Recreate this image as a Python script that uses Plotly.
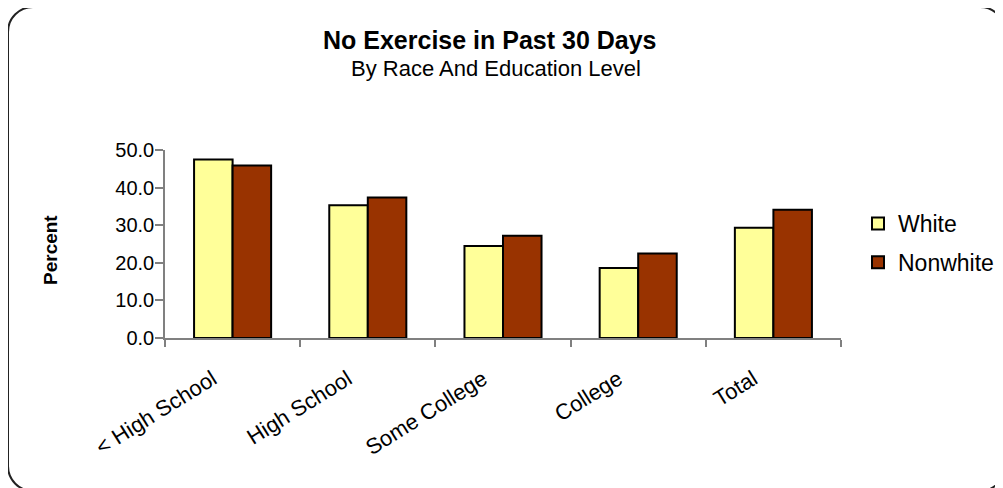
import plotly.graph_objects as go

categories = ["< High School", "High School", "Some College", "College", "Total"]
white = [47.5, 35.3, 24.5, 18.6, 29.3]
nonwhite = [45.9, 37.4, 27.2, 22.5, 34.1]
series_names = ["White", "Nonwhite"]
y_ticks = [0, 10, 20, 30, 40, 50]

OFF = 8  # page body margin
W, H = 1003 - OFF, 488 - OFF
PL, PR, PT, PB = 165, 841, 150, 338  # plot area in page pixels
L, T = PL - OFF, PT - OFF
R, B = W - (PR - OFF), H - (PB - OFF)
PW, PH = PR - PL, PB - PT
FONT = "Liberation Sans, Arial, sans-serif"


def px(x):
    return (x - PL) / PW


def py(y):
    return (PB - y) / PH


def rounded_rect(x0, y0, x1, y1, r):
    k = 0.5523 * r
    pts = [
        f"M{px(x0 + r)},{py(y0)}",
        f"L{px(x1 - r)},{py(y0)}",
        f"C{px(x1 - r + k)},{py(y0)} {px(x1)},{py(y0 + r - k)} {px(x1)},{py(y0 + r)}",
        f"L{px(x1)},{py(y1 - r)}",
        f"C{px(x1)},{py(y1 - r + k)} {px(x1 - r + k)},{py(y1)} {px(x1 - r)},{py(y1)}",
        f"L{px(x0 + r)},{py(y1)}",
        f"C{px(x0 + r - k)},{py(y1)} {px(x0)},{py(y1 - r + k)} {px(x0)},{py(y1 - r)}",
        f"L{px(x0)},{py(y0 + r)}",
        f"C{px(x0)},{py(y0 + r - k)} {px(x0 + r - k)},{py(y0)} {px(x0 + r)},{py(y0)}",
        "Z",
    ]
    return " ".join(pts)


fig = go.Figure()
fig.add_trace(go.Bar(
    x=categories, y=white, name=series_names[0], legendgroup="a",
    marker=dict(color="#FFFF99", line=dict(color="black", width=2)),
))
fig.add_trace(go.Bar(
    x=categories, y=nonwhite, name=series_names[1], legendgroup="b",
    marker=dict(color="#993300", line=dict(color="black", width=2)),
))

fig.update_layout(
    width=W, height=H,
    margin=dict(l=L, r=R, t=T, b=B, autoexpand=False),
    paper_bgcolor="white", plot_bgcolor="white",
    barmode="group", bargap=0.43, bargroupgap=0,
    font=dict(family=FONT, color="black"),
    showlegend=True,
    legend=dict(
        x=px(858), y=py(202), xanchor="left", yanchor="top",
        font=dict(size=23, family=FONT, color="black"),
        tracegroupgap=6, traceorder="grouped",
        bgcolor="rgba(0,0,0,0)", itemwidth=30,
    ),
    xaxis=dict(
        showline=True, linecolor="#808080", linewidth=1.5,
        ticks="outside", tickson="boundaries", ticklen=7,
        tickcolor="#808080", tickwidth=1.5,
        tickangle=-32, tickfont=dict(size=22, family=FONT, color="black"),
        ticklabelstandoff=18, ticklabelshift=-20,
        showgrid=False, zeroline=False,
    ),
    yaxis=dict(
        range=[0, 50], tickvals=y_ticks, tickformat=".1f",
        showline=True, linecolor="#808080", linewidth=1.5,
        ticks="outside", ticklen=8, tickcolor="#808080", tickwidth=1.5,
        tickfont=dict(size=20, family=FONT, color="black"),
        ticklabelstandoff=-3,
        showgrid=False, zeroline=False,
    ),
    annotations=[
        dict(text="<b>No Exercise in Past 30 Days</b>", x=px(490), y=py(40),
             xref="paper", yref="paper", showarrow=False,
             xanchor="center", yanchor="middle",
             font=dict(size=25, family=FONT, color="black")),
        dict(text="By Race And Education Level", x=px(496), y=py(68),
             xref="paper", yref="paper", showarrow=False,
             xanchor="center", yanchor="middle",
             font=dict(size=22, family=FONT, color="black")),
        dict(text="<b>Percent</b>", x=px(50), y=py(250), textangle=-90,
             xref="paper", yref="paper", showarrow=False,
             xanchor="center", yanchor="middle",
             font=dict(size=19, family=FONT, color="black")),
    ],
    shapes=[
        dict(type="path", xref="paper", yref="paper",
             path=rounded_rect(8, 7, 1005, 491, 25),
             line=dict(color="#222222", width=2), layer="above"),
    ],
)

fig.write_html("out.html")
